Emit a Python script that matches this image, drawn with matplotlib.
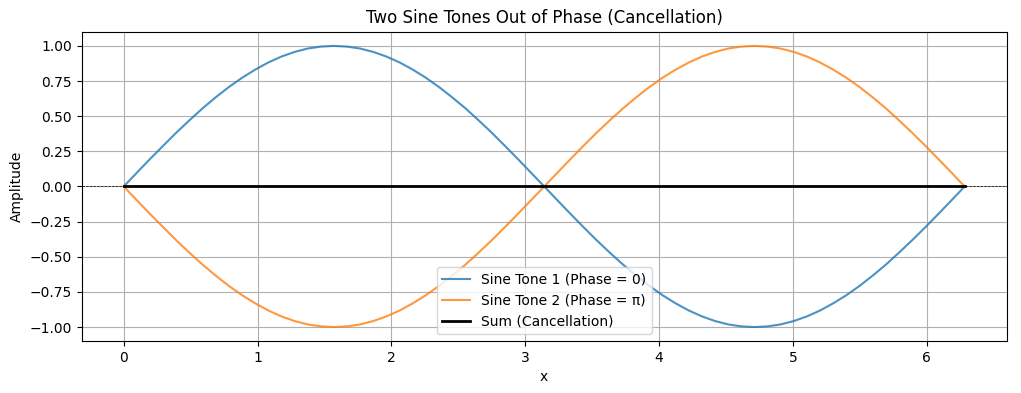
import matplotlib
matplotlib.use("Agg")
from matplotlib import pyplot as plt

# sample positions (0 .. ~6.28)
x = [0.0, 0.098, 0.196, 0.295, 0.393, 0.491, 0.589, 0.687,
     0.785, 0.884, 0.982, 1.080, 1.178, 1.276, 1.374, 1.473,
     1.571, 1.669, 1.767, 1.865, 1.963, 2.062, 2.160, 2.258,
     2.356, 2.454, 2.553, 2.651, 2.749, 2.847, 2.945, 3.043,
     3.142, 3.240, 3.338, 3.436, 3.534, 3.632, 3.731, 3.829,
     3.927, 4.025, 4.123, 4.222, 4.320, 4.418, 4.516, 4.614,
     4.712, 4.811, 4.909, 5.007, 5.105, 5.203, 5.301, 5.400,
     5.498, 5.596, 5.694, 5.792, 5.890, 5.989, 6.087, 6.185,
     6.283]

tone1 = [0.0, 0.098, 0.195, 0.290, 0.383, 0.471, 0.556, 0.634,
         0.707, 0.773, 0.831, 0.882, 0.924, 0.957, 0.981, 0.995,
         1.0, 0.995, 0.981, 0.957, 0.924, 0.882, 0.831, 0.773,
         0.707, 0.634, 0.556, 0.471, 0.383, 0.290, 0.195, 0.098,
         0.0, -0.098, -0.195, -0.290, -0.383, -0.471, -0.556, -0.634,
         -0.707, -0.773, -0.831, -0.882, -0.924, -0.957, -0.981, -0.995,
         -1.0, -0.995, -0.981, -0.957, -0.924, -0.882, -0.831, -0.773,
         -0.707, -0.634, -0.556, -0.471, -0.383, -0.290, -0.195, -0.098,
         0.0]

tone2 = [0.0, -0.098, -0.195, -0.290, -0.383, -0.471, -0.556, -0.634,
         -0.707, -0.773, -0.831, -0.882, -0.924, -0.957, -0.981, -0.995,
         -1.0, -0.995, -0.981, -0.957, -0.924, -0.882, -0.831, -0.773,
         -0.707, -0.634, -0.556, -0.471, -0.383, -0.290, -0.195, -0.098,
         0.0, 0.098, 0.195, 0.290, 0.383, 0.471, 0.556, 0.634,
         0.707, 0.773, 0.831, 0.882, 0.924, 0.957, 0.981, 0.995,
         1.0, 0.995, 0.981, 0.957, 0.924, 0.882, 0.831, 0.773,
         0.707, 0.634, 0.556, 0.471, 0.383, 0.290, 0.195, 0.098,
         0.0]

total = [0.0] * len(x)

fig, ax = plt.subplots(figsize=(10.21, 3.93), dpi=100)
fig.subplots_adjust(left=0.080, right=0.986, top=0.919, bottom=0.132)

ax.plot(x, tone1, label="Sine Tone 1 (Phase = 0)", alpha=0.8)
ax.plot(x, tone2, label="Sine Tone 2 (Phase = π)", alpha=0.8)
ax.plot(x, total, label="Sum (Cancellation)", color="black", linewidth=2)
ax.axhline(0, color="black", linewidth=0.5, linestyle="--")

ax.set_title("Two Sine Tones Out of Phase (Cancellation)")
ax.set_xlabel("x")
ax.set_ylabel("Amplitude")
ax.legend(loc="lower center")
ax.grid(True)

fig.savefig("out.png")
